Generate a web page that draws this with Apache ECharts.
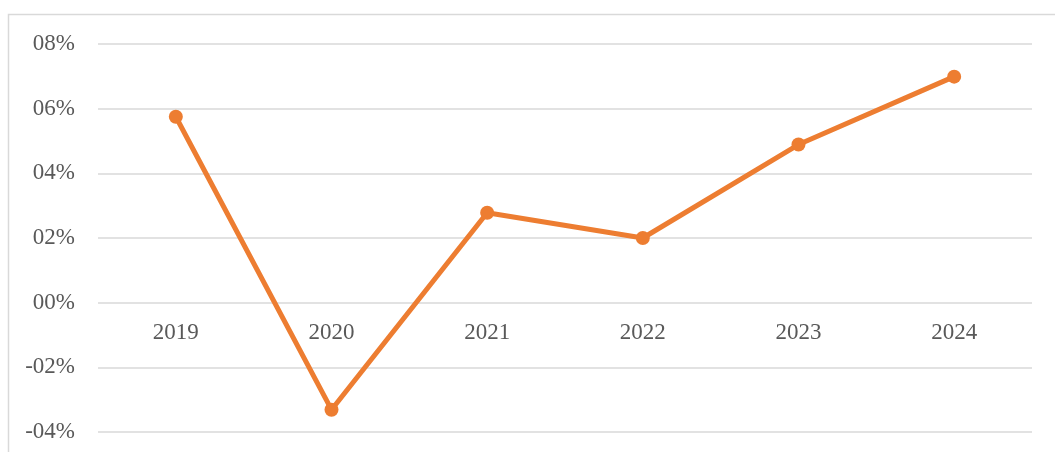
<!DOCTYPE html>
<html>
<head>
<meta charset="utf-8">
<script src="https://cdn.jsdelivr.net/npm/echarts@6/dist/echarts.min.js"></script>
<style>
  html, body { margin: 0; padding: 0; background: #fff; }
  #chart { width: 1055px; height: 452px; }
</style>
</head>
<body>
<div id="chart"></div>
<script>
// years on the x axis
const years = ['2019', '2020', '2021', '2022', '2023', '2024']
// growth rate, %
const growth = [5.75, -3.31, 2.78, 2.0, 4.89, 6.99]
// y axis range
const yMin = -4
const yMax = 8

const gridTop = 44
const gridBottom = 20
const chartHeight = 452
// move the category labels up from the bottom edge to the zero line
const zeroOffset = -(chartHeight - gridTop - gridBottom) * (0 - yMin) / (yMax - yMin)

const chart = echarts.init(document.getElementById('chart'))

chart.setOption({
  animation: false,
  textStyle: {
    fontFamily: 'Liberation Serif'
  },
  graphic: [{
    type: 'rect',
    shape: { x: 8.5, y: 14.5, width: 1100, height: 500 },
    style: { fill: 'none', stroke: '#d9d9d9', lineWidth: 1.5 },
    silent: true
  }],
  grid: {
    left: 98,
    right: 23,
    top: gridTop,
    bottom: gridBottom,
    containLabel: false,
    outerBoundsMode: 'none'
  },
  xAxis: {
    type: 'category',
    data: years,
    boundaryGap: true,
    offset: zeroOffset,
    axisLine: { show: false, onZero: false },
    axisTick: { show: false },
    axisLabel: {
      color: '#595959',
      fontSize: 23,
      margin: 19,
      fontFamily: 'Liberation Serif'
    }
  },
  yAxis: {
    type: 'value',
    min: yMin,
    max: yMax,
    interval: 2,
    axisLine: { show: false },
    axisTick: { show: false },
    splitLine: {
      lineStyle: { color: '#d9d9d9', width: 1.5 }
    },
    axisLabel: {
      color: '#595959',
      fontSize: 23,
      margin: 23,
      fontFamily: 'Liberation Serif',
      formatter: function (v) {
        return (v < 0 ? '-' : '') + '0' + Math.abs(v) + '%'
      }
    }
  },
  series: [{
    type: 'line',
    data: growth,
    symbol: 'circle',
    symbolSize: 14,
    itemStyle: {
      color: '#ED7D31'
    },
    lineStyle: {
      color: '#ED7D31',
      width: 5
    }
  }]
})
</script>
</body>
</html>
